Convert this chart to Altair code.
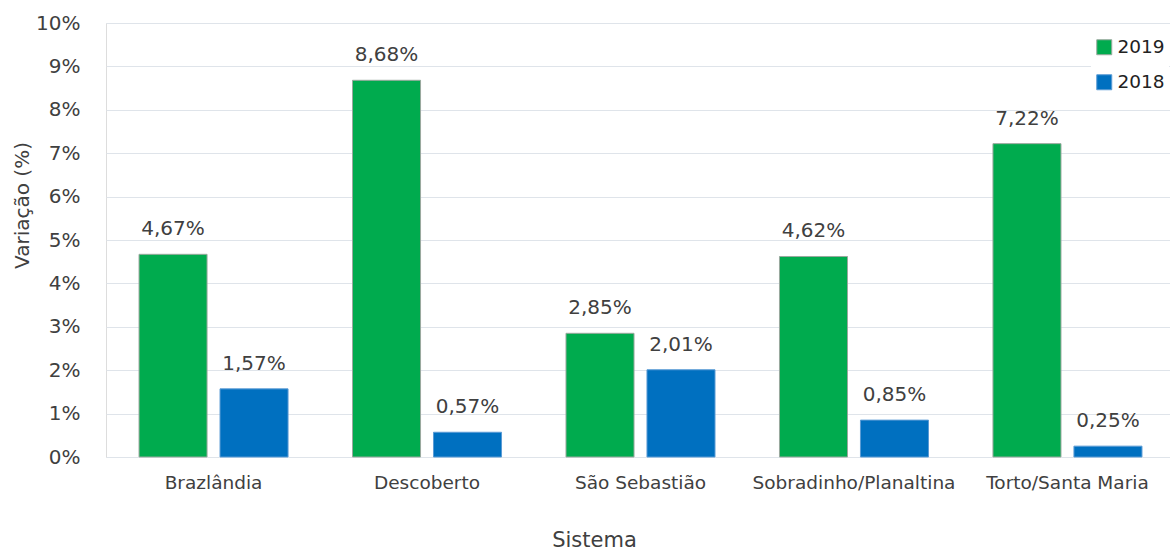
import altair as alt
import pandas as pd

sistemas = ["Brazlândia", "Descoberto", "São Sebastião", "Sobradinho/Planaltina", "Torto/Santa Maria"]
v2019 = [4.67, 8.68, 2.85, 4.62, 7.22]
v2018 = [1.57, 0.57, 2.01, 0.85, 0.25]
anos = ["2019", "2018"]
cores = ["#00AB4E", "#0070C0"]
bordas = ["#9aa89e", "#5b9bd5"]

rows = []
for s, a, b in zip(sistemas, v2019, v2018):
    rows.append({"Sistema": s, "Ano": "2019", "v": a / 100, "rotulo": f"{a:.2f}%".replace(".", ",")})
    rows.append({"Sistema": s, "Ano": "2018", "v": b / 100, "rotulo": f"{b:.2f}%".replace(".", ",")})
df = pd.DataFrame(rows)

FONT = "DejaVu Sans"
TXT = "#404040"

x = alt.X(
    "Sistema:N",
    sort=sistemas,
    scale=alt.Scale(paddingInner=0.302, paddingOuter=0.143, align=0.541),
    axis=alt.Axis(
        title="Sistema", labelAngle=0, ticks=False, domain=False, grid=False,
        labelFontSize=18.5, labelPadding=16, labelColor=TXT, labelFont=FONT, labelLimit=0,
        titleFontSize=21, titleFont=FONT, titleColor=TXT, titleFontWeight="normal",
        titleX=488, titleY=83, titleBaseline="middle", titleAlign="center",
    ),
)
xo = alt.XOffset("Ano:N", sort=anos, scale=alt.Scale(paddingInner=0.16, paddingOuter=0))
y = alt.Y(
    "v:Q",
    scale=alt.Scale(domain=[0, 0.1], nice=False),
    axis=alt.Axis(
        title="Variação (%)", format=".0%", tickCount=10, ticks=False, domain=False,
        labelFontSize=20, labelFont=FONT, labelColor=TXT, labelPadding=26,
        titleFontSize=20, titleFont=FONT, titleColor=TXT, titleFontWeight="normal",
        titleX=-84, titleY=182, titleAlign="center", titleBaseline="middle",
        gridColor="#dfe4ea", gridWidth=1.2,
    ),
)

bars = alt.Chart(df).mark_bar(strokeWidth=1).encode(
    x=x, xOffset=xo, y=y,
    color=alt.Color(
        "Ano:N", sort=anos, scale=alt.Scale(domain=anos, range=cores),
        legend=alt.Legend(
            orient="none", legendX=985, legendY=11, fillColor="white", padding=4,
            title=None, symbolType="square", symbolSize=225, labelFontSize=18.5,
            labelFont=FONT, labelColor="#222222", rowPadding=15, labelOffset=4,
            symbolStrokeWidth=1, labelLimit=0,
        ),
    ),
    stroke=alt.Stroke("Ano:N", sort=anos, scale=alt.Scale(domain=anos, range=bordas), legend=None),
)

labels = alt.Chart(df).mark_text(
    dy=-19, baseline="alphabetic", fontSize=20, font=FONT, color=TXT
).encode(x=x, xOffset=xo, y=y, text="rotulo:N")

chart = alt.layer(bars, labels).properties(
    width=1064, height=434,
    autosize=alt.AutoSizeParams(type="none"),
    padding={"left": 106, "top": 23, "right": 0, "bottom": 94},
).configure_view(stroke=None).configure(background="white")

chart.save("out.html", embed_options={"renderer": "svg", "actions": False})
